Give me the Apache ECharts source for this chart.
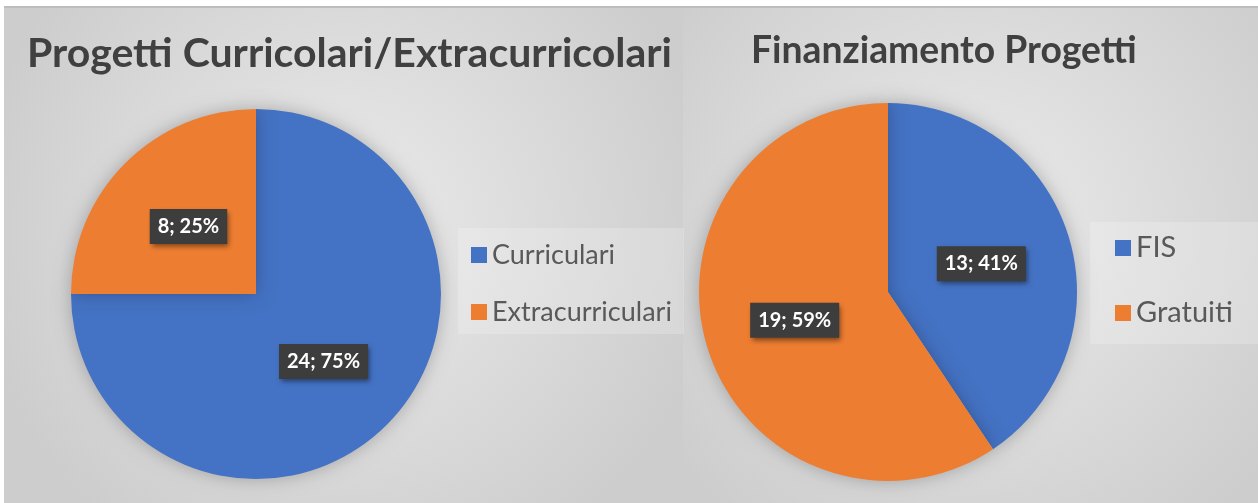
<!DOCTYPE html>
<html>
<head>
<meta charset="utf-8">
<script src="https://cdn.jsdelivr.net/npm/echarts@6/dist/echarts.min.js"></script>
<style>
html,body{margin:0;padding:0;background:#fff;}
#c{width:1258px;height:503px;}
</style>
</head>
<body>
<div id="c"></div>
<script>
const title1 = 'Progetti Curricolari/Extracurricolari';
const categories1 = ['Curriculari', 'Extracurriculari'];
const values1 = [24, 8];
const title2 = 'Finanziamento Progetti';
const categories2 = ['FIS', 'Gratuiti'];
const values2 = [13, 19];
const colors = ['#4472C4', '#ED7D31'];

const FONT = 'Lato';
const chart = echarts.init(document.getElementById('c'), null, {renderer: 'canvas'});

function bgGrad() {
  return new echarts.graphic.RadialGradient(0.5, 0.45, 0.75, [
    {offset: 0, color: '#ebebeb'},
    {offset: 1, color: '#cdcdcd'}
  ]);
}
const labelStyle = {
  show: true,
  position: 'inside',
  formatter: '{c}; {d}%',
  color: '#ffffff',
  fontFamily: FONT,
  fontWeight: 'bold',
  fontSize: 20,
  backgroundColor: '#3d3d3d',
  padding: [8, 8, 7, 8],
  shadowColor: 'rgba(0,0,0,0.45)',
  shadowBlur: 5,
  shadowOffsetX: 2,
  shadowOffsetY: 3
};
function mkData(cats, vals) {
  return cats.map((n, i) => ({name: n, value: vals[i], itemStyle: {color: colors[i]}}));
}

chart.setOption({
  animation: false,
  graphic: [
    {type: 'rect', shape: {x: 0, y: 0, width: 1258, height: 503}, style: {fill: '#ffffff'}, z: -10, silent: true},
    {type: 'rect', shape: {x: 4, y: 6, width: 679, height: 497}, style: {fill: bgGrad()}, z: -9, silent: true},
    {type: 'rect', shape: {x: 683, y: 6, width: 575, height: 497}, style: {fill: bgGrad()}, z: -9, silent: true},
    {type: 'rect', shape: {x: 4, y: 6, width: 1254, height: 2}, style: {fill: '#bdbdbd'}, z: -8, silent: true},
    {type: 'rect', shape: {x: 458, y: 228, width: 226, height: 106}, style: {fill: 'rgba(255,255,255,0.2)'}, z: -7, silent: true},
    {type: 'rect', shape: {x: 1090, y: 222, width: 168, height: 122}, style: {fill: 'rgba(255,255,255,0.2)'}, z: -7, silent: true}
  ],
  title: [
    {text: title1, left: 22, top: 28, textStyle: {color: '#404040', fontFamily: FONT, fontWeight: 'bold', fontSize: 41}},
    {text: title2, left: 746, top: 27, textStyle: {color: '#404040', fontFamily: FONT, fontWeight: 'bold', fontSize: 37.3}}
  ],
  legend: [
    {data: categories1, orient: 'vertical', left: 466, top: 235, itemWidth: 16, itemHeight: 16, itemGap: 27, icon: 'rect',
     textStyle: {color: '#595959', fontFamily: FONT, fontSize: 27, lineHeight: 30}},
    {data: categories2, orient: 'vertical', left: 1110, top: 228, itemWidth: 16, itemHeight: 16, itemGap: 35, icon: 'rect',
     textStyle: {color: '#595959', fontFamily: FONT, fontSize: 29, lineHeight: 30}}
  ],
  series: [
    {
      type: 'pie', center: [256, 294], radius: 185, startAngle: 90, clockwise: true,
      percentPrecision: 0, label: labelStyle, labelLine: {show: false},
      itemStyle: {shadowColor: 'rgba(0,0,0,0.25)', shadowBlur: 18},
      emphasis: {disabled: true},
      data: mkData(categories1, values1)
    },
    {
      type: 'pie', center: [888, 292], radius: 189, startAngle: 90, clockwise: true,
      percentPrecision: 0, label: labelStyle, labelLine: {show: false},
      itemStyle: {shadowColor: 'rgba(0,0,0,0.25)', shadowBlur: 18},
      emphasis: {disabled: true},
      data: mkData(categories2, values2)
    }
  ]
});
</script>
</body>
</html>
